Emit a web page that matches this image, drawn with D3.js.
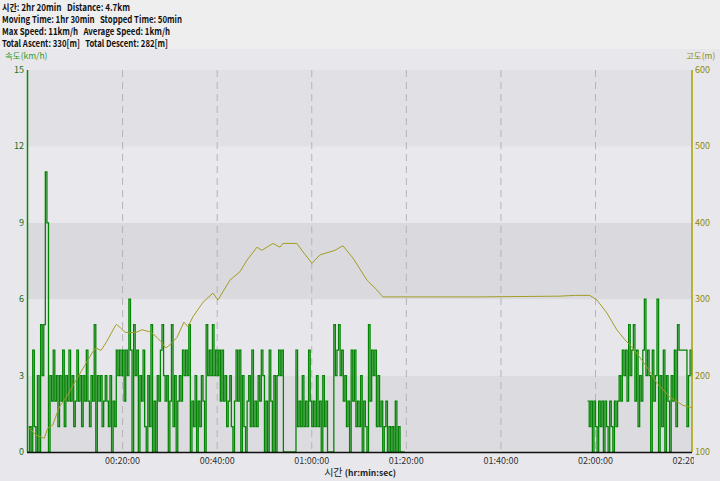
<!DOCTYPE html>
<html><head><meta charset="utf-8">
<script src="https://cdn.jsdelivr.net/npm/d3@7"></script>
<style>
html,body{margin:0;padding:0;background:#e8e8ec;}
svg{display:block;}
text{font-family:"Liberation Sans Narrow","Noto Sans CJK KR",sans-serif;}
</style></head>
<body><svg id="chart" width="720" height="481"></svg>
<script>
// ---------- data ----------
const headerLines = [
  "시간: 2hr 20min   Distance: 4.7km",
  "Moving Time: 1hr 30min   Stopped Time: 50min",
  "Max Speed: 11km/h   Average Speed: 1km/h",
  "Total Ascent: 330[m]   Total Descent: 282[m]"
];
const speedTicks = [0, 3, 6, 9, 12, 15];
const elevTicks = [100, 200, 300, 400, 500, 600];
const timeTicks = [20, 40, 60, 80, 100, 120, 140]; // minutes

// speed samples every 20 s (km/h)
const speed00 = [0,1,0,4,1,0,3,0,5,3,5,11,9,0,3,2,4,2,3,1,3,2,4,1,3,2,4,2,3,1,2,4,2,3,1,3,2,4,2,1,3,2,5,0,3,2,3,1,2,3,2,1,3,0,2,1,4,3,4,3];
const speed20 = [4,2,4,3,6,4,0,5,3,4,0,3,2,4,1,0,3,1,5,0,2,0,3,2,4,5,3,2,3,0,2,5,1,3,0,2,3,2,4,3,4,3,5,0,2,1,3,0,2,1,3,2,0,5,3,4,3,5,3,4];
const speed40 = [3,4,2,4,2,3,1,2,3,1,0,2,4,2,4,0,3,1,0,2,3,1,4,1,2,1,3,2,4,3,0,2,0,4,2,0,3,0,3,4,3,4,0,0,0,0,0,0,0,0,4,1,2,1,3,1,2,1,4,2];
const speed60 = [1,2,1,3,1,2,0,3,1,2,0,0,0,0,5,3,4,5,3,4,2,3,1,2,0,4,2,4,1,2,1,3,0,2,1,0,5,2,4,3,4,1,3,1,2,0,1,2,0,1,0,1,0,2,0,1,0,0,0,0];
const speedEndStart = 118.333; // minutes
const speedEnd = [2,1,2,0,2,1,0,2,1,2,0,2,1,0,2,1,0,2,1,2,3,2,4,3,4,2,5,3,4,5,2,4,1,3,2,4,6,3,4,3,0,4,2,3,6,0,3,1,4,0,3,2,0,3,2,4,1,5,4,4,4,4,4,1,3,4,3];

// elevation (minutes, metres)
const elevTime = [0,0.27,1.69,3.45,4.16,5.22,6.62,8.03,10.15,12.26,13.68,14.38,15.43,16.49,18.54,18.8,19.6,20.5,21.35,23.04,24.1,25.94,27.27,28.33,28.96,29.38,30.44,31.5,32.98,33.82,34.88,37.0,39.11,40.17,42.7,44.82,46.3,48.41,49.47,51.79,53.27,53.9,56.87,58.14,60.04,61.73,64.9,66.59,68.7,71.66,73.78,75.05,78.64,95,112.5,115.6,118.8,120.3,122.4,124.5,126.2,127.9,130.9,133.0,135.7,138.5,140.4];
const elevValue = [132,131,122,118,131,135,159,171,194,216,231,236,233,243,266,267,262,257,256,257,260,257,250,243,237,237,243,250,270,264,277,296,308,299,325,336,351,368,364,373,368,373,373,362,347,358,364,370,354,325,312,303,303,303,304,305,305,299,282,260,247,236,211,190,172,161,158];

// ---------- chart ----------
const svg = d3.select("#chart");
const L = 28, R = 692, T = 70, B = 452;

svg.append("rect").attr("width",720).attr("height",481).attr("fill","#e8e8ec");
svg.append("rect").attr("width",720).attr("height",49).attr("fill","#eeeeef");

const x = d3.scaleLinear().domain([0,140.4]).range([L,R]);
const yS = d3.scaleLinear().domain([0,15]).range([B,T]);
const yE = d3.scaleLinear().domain([100,600]).range([B,T]);

// header text (widths fitted to the reference layout)
const headerWidths = [128, 180, 168, 166];
svg.append("g").selectAll("text").data(headerLines).join("text")
  .attr("x",2).attr("y",(d,i)=>10.5+i*12)
  .attr("font-size",9.5).attr("font-weight","bold").attr("fill","#111")
  .attr("xml:space","preserve")
  .attr("textLength",(d,i)=>headerWidths[i]).attr("lengthAdjust","spacingAndGlyphs")
  .text(d=>d);

// bands
const bandCols = ["#dcdce0","#e7e7eb","#dadade","#e9e9ed","#e1e1e5"];
svg.append("g").selectAll("rect").data(d3.range(5)).join("rect")
  .attr("x",L).attr("width",R-L)
  .attr("y",i=>yS((i+1)*3)).attr("height",i=>yS(i*3)-yS((i+1)*3))
  .attr("fill",i=>bandCols[i]);

// dashed vertical grid
svg.append("g").selectAll("line").data(timeTicks.slice(0,-1)).join("line")
  .attr("x1",d=>x(d)).attr("x2",d=>x(d)).attr("y1",T).attr("y2",B)
  .attr("stroke","#b4b4b8").attr("stroke-dasharray","7,5");

// speed
const stepLine = d3.line().x(d=>x(d.t)).y(d=>yS(d.v)).curve(d3.curveStepAfter);
const mainSpeed = [...speed00,...speed20,...speed40,...speed60].map((v,i)=>({t:i/3,v}));
const endSpeed = speedEnd.map((v,i)=>({t:speedEndStart+i/3,v}));
[mainSpeed,endSpeed].forEach(s=>{
  svg.append("path").datum(s).attr("d",stepLine)
    .attr("fill","none").attr("stroke","#048404").attr("stroke-width",1.3);
});

// elevation
const elev = elevTime.map((t,i)=>({t,v:elevValue[i]}));
svg.append("path").datum(elev)
  .attr("d",d3.line().x(d=>x(d.t)).y(d=>yE(d.v)))
  .attr("fill","none").attr("stroke","#a39c24").attr("stroke-width",1);

// axes lines
svg.append("line").attr("x1",L-0.5).attr("x2",L-0.5).attr("y1",T).attr("y2",B)
  .attr("stroke","#0a8a0a").attr("stroke-width",1.5);
svg.append("line").attr("x1",R).attr("x2",R).attr("y1",T).attr("y2",B)
  .attr("stroke","#a8a000").attr("stroke-width",1.5);
svg.append("line").attr("x1",L-1).attr("x2",R).attr("y1",B+0.5).attr("y2",B+0.5)
  .attr("stroke","#111").attr("stroke-width",1.5);

// left tick labels
svg.append("g").selectAll("text").data(speedTicks).join("text")
  .attr("x",L-4).attr("y",d=>yS(d)+3).attr("text-anchor","end")
  .attr("font-size",9).attr("fill","#1a6e1a").text(d=>d);
svg.append("text").attr("x",5).attr("y",59).attr("font-size",8.5).attr("fill","#2a9a2a").text("속도(km/h)");

// right tick labels
svg.append("g").selectAll("text").data(elevTicks).join("text")
  .attr("x",R+3).attr("y",d=>yE(d)+3)
  .attr("font-size",9).attr("fill","#8c8a10").text(d=>d);
svg.append("text").attr("x",686).attr("y",59).attr("font-size",8.5).attr("fill","#8c8a10").text("고도(m)");

// x tick labels
const fmt = m => { const h=Math.floor(m/60), mm=m%60; return d3.format("02d")(h)+":"+d3.format("02d")(mm)+":00"; };
svg.append("clipPath").attr("id","xclip").append("rect").attr("x",0).attr("y",440).attr("width",694).attr("height",40);
svg.append("g").attr("clip-path","url(#xclip)").selectAll("text").data(timeTicks).join("text")
  .attr("x",d=>x(d)).attr("y",464).attr("text-anchor","middle")
  .attr("font-size",9).attr("fill","#333").text(fmt);
const xt = svg.append("text").attr("x",360).attr("y",476).attr("text-anchor","middle").attr("fill","#222");
xt.append("tspan").attr("font-size",10).text("시간 ");
xt.append("tspan").attr("font-size",8.5).attr("font-weight","bold").text("(hr:min:sec)");
</script></body></html>
